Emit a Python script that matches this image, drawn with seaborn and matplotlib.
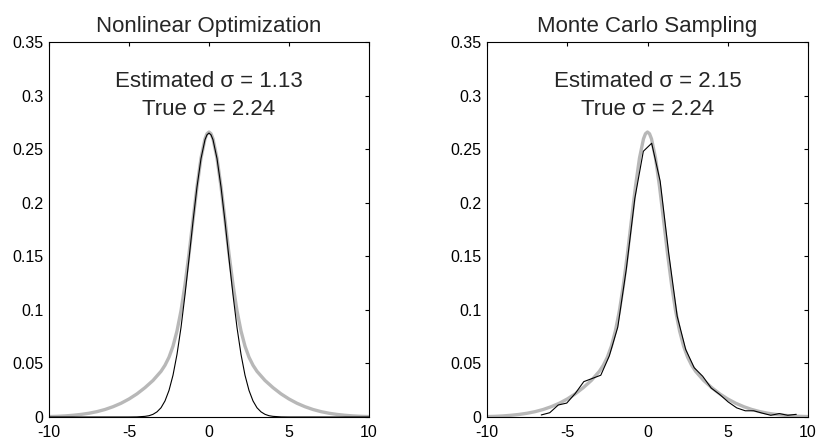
import seaborn as sns
import matplotlib
matplotlib.use("Agg")
import matplotlib.pyplot as plt

# --- datos ---
# densidad verdadera (curva gris, igual en ambos paneles)
x_true = [-10, -9.5, -9, -8.5, -8, -7.5, -7, -6.5, -6, -5.5, -5, -4.5, -4, -3.5, -3,
          -2.75, -2.5, -2.25, -2, -1.75, -1.5, -1.25, -1, -0.75, -0.5, -0.25, -0.125, 0,
          0.125, 0.25, 0.5, 0.75, 1, 1.25, 1.5, 1.75, 2, 2.25, 2.5, 2.75,
          3, 3.5, 4, 4.5, 5, 5.5, 6, 6.5, 7, 7.5, 8, 8.5, 9, 9.5, 10]
y_true = [0.0004, 0.0006, 0.0010, 0.0016, 0.0024, 0.0035, 0.0050, 0.0070, 0.0096, 0.0128,
          0.0168, 0.0216, 0.0274, 0.0341, 0.0426, 0.0483, 0.0558, 0.0661, 0.0803, 0.0992,
          0.1235, 0.1522, 0.1839, 0.2150, 0.2416, 0.2596, 0.2644, 0.2660,
          0.2644, 0.2596, 0.2416, 0.2150, 0.1839, 0.1522, 0.1235, 0.0992, 0.0803, 0.0661,
          0.0558, 0.0483, 0.0426, 0.0341, 0.0274, 0.0216, 0.0168, 0.0128, 0.0096, 0.0070,
          0.0050, 0.0035, 0.0024, 0.0016, 0.0010, 0.0006, 0.0004]

# optimizacion no lineal (curva negra, panel izquierdo)
x_opt = [-10, -5, -4.5, -4, -3.75, -3.5, -3.25, -3, -2.75, -2.5, -2.25, -2, -1.75, -1.5,
         -1.25, -1, -0.75, -0.5, -0.25, -0.125, 0, 0.125, 0.25, 0.5, 0.75, 1, 1.25, 1.5,
         1.75, 2, 2.25, 2.5, 2.75, 3, 3.25, 3.5, 3.75, 4, 4.5, 5, 10]
y_opt = [0, 0, 0.0001, 0.0006, 0.0012, 0.0025, 0.0048, 0.0086, 0.0150, 0.0248, 0.0390,
         0.0585, 0.0835, 0.1140, 0.1478, 0.1825, 0.2148, 0.2412, 0.2588, 0.2634, 0.2650,
         0.2634, 0.2588, 0.2412, 0.2148, 0.1825, 0.1478, 0.1140, 0.0835, 0.0585, 0.0390,
         0.0248, 0.0150, 0.0086, 0.0048, 0.0025, 0.0012, 0.0006, 0.0001, 0, 0]

# muestreo Monte Carlo (curva negra, panel derecho)
x_mc = [-6.62, -6.09, -5.56, -5.03, -4.50, -3.97, -3.44, -2.91, -2.38, -1.85, -1.32,
        -0.79, -0.26, 0.26, 0.79, 1.32, 1.85, 2.38, 2.91, 3.44, 3.97, 4.50, 5.03, 5.56,
        6.09, 6.62, 7.15, 7.68, 8.21, 8.74, 9.27]
y_mc = [0.0019, 0.0040, 0.0112, 0.0130, 0.0220, 0.0330, 0.0360, 0.0390, 0.0570, 0.0840,
        0.1380, 0.2040, 0.2480, 0.2555, 0.2200, 0.1530, 0.0940, 0.0630, 0.0460, 0.0380,
        0.0270, 0.0210, 0.0140, 0.0085, 0.0058, 0.0058, 0.0036, 0.0016, 0.0032, 0.0016,
        0.0025]

titulos = ["Nonlinear Optimization", "Monte Carlo Sampling"]
textos = [["Estimated σ = 1.13", "True σ = 2.24"],
          ["Estimated σ = 2.15", "True σ = 2.24"]]
xticks = [-10, -5, 0, 5, 10]
yticks = [0, 0.05, 0.1, 0.15, 0.2, 0.25, 0.3, 0.35]
yticklabels = ["0", "0.05", "0.1", "0.15", "0.2", "0.25", "0.3", "0.35"]

sns.set_style("white")
plt.rcParams["font.family"] = ["Liberation Sans", "DejaVu Sans"]

fig = plt.figure(figsize=(8.17, 4.42), dpi=100)
ax1 = fig.add_axes([49 / 817, 25 / 442, 320 / 817, 375 / 442])
ax2 = fig.add_axes([487 / 817, 25 / 442, 321 / 817, 375 / 442])

gris = "#b8b8b8"
series = [(ax1, x_opt, y_opt), (ax2, x_mc, y_mc)]
for i, (ax, xs, ys) in enumerate(series):
    sns.lineplot(x=x_true, y=y_true, ax=ax, color=gris, linewidth=2.4)
    sns.lineplot(x=xs, y=ys, ax=ax, color="black", linewidth=0.8)

    ax.set_xlim(-10, 10)
    ax.set_ylim(0, 0.35)
    ax.set_xticks(xticks)
    ax.set_xticklabels([str(t) for t in xticks])
    ax.set_yticks(yticks)
    ax.set_yticklabels(yticklabels)
    ax.tick_params(direction="in", length=3, width=0.8, top=True, right=True,
                   labelsize=11.5, colors="black")
    ax.tick_params(axis="x", pad=6)
    ax.tick_params(axis="y", pad=4)
    for sp in ax.spines.values():
        sp.set_visible(True)
        sp.set_color("black")
        sp.set_linewidth(0.8)

    ax.set_title(titulos[i], fontsize=16, pad=7)
    ax.text(0, 0.313, textos[i][0], ha="center", va="center", fontsize=16)
    ax.text(0, 0.287, textos[i][1], ha="center", va="center", fontsize=16)
    ax.set_xlabel("")
    ax.set_ylabel("")

plt.savefig("out.png", dpi=100)
